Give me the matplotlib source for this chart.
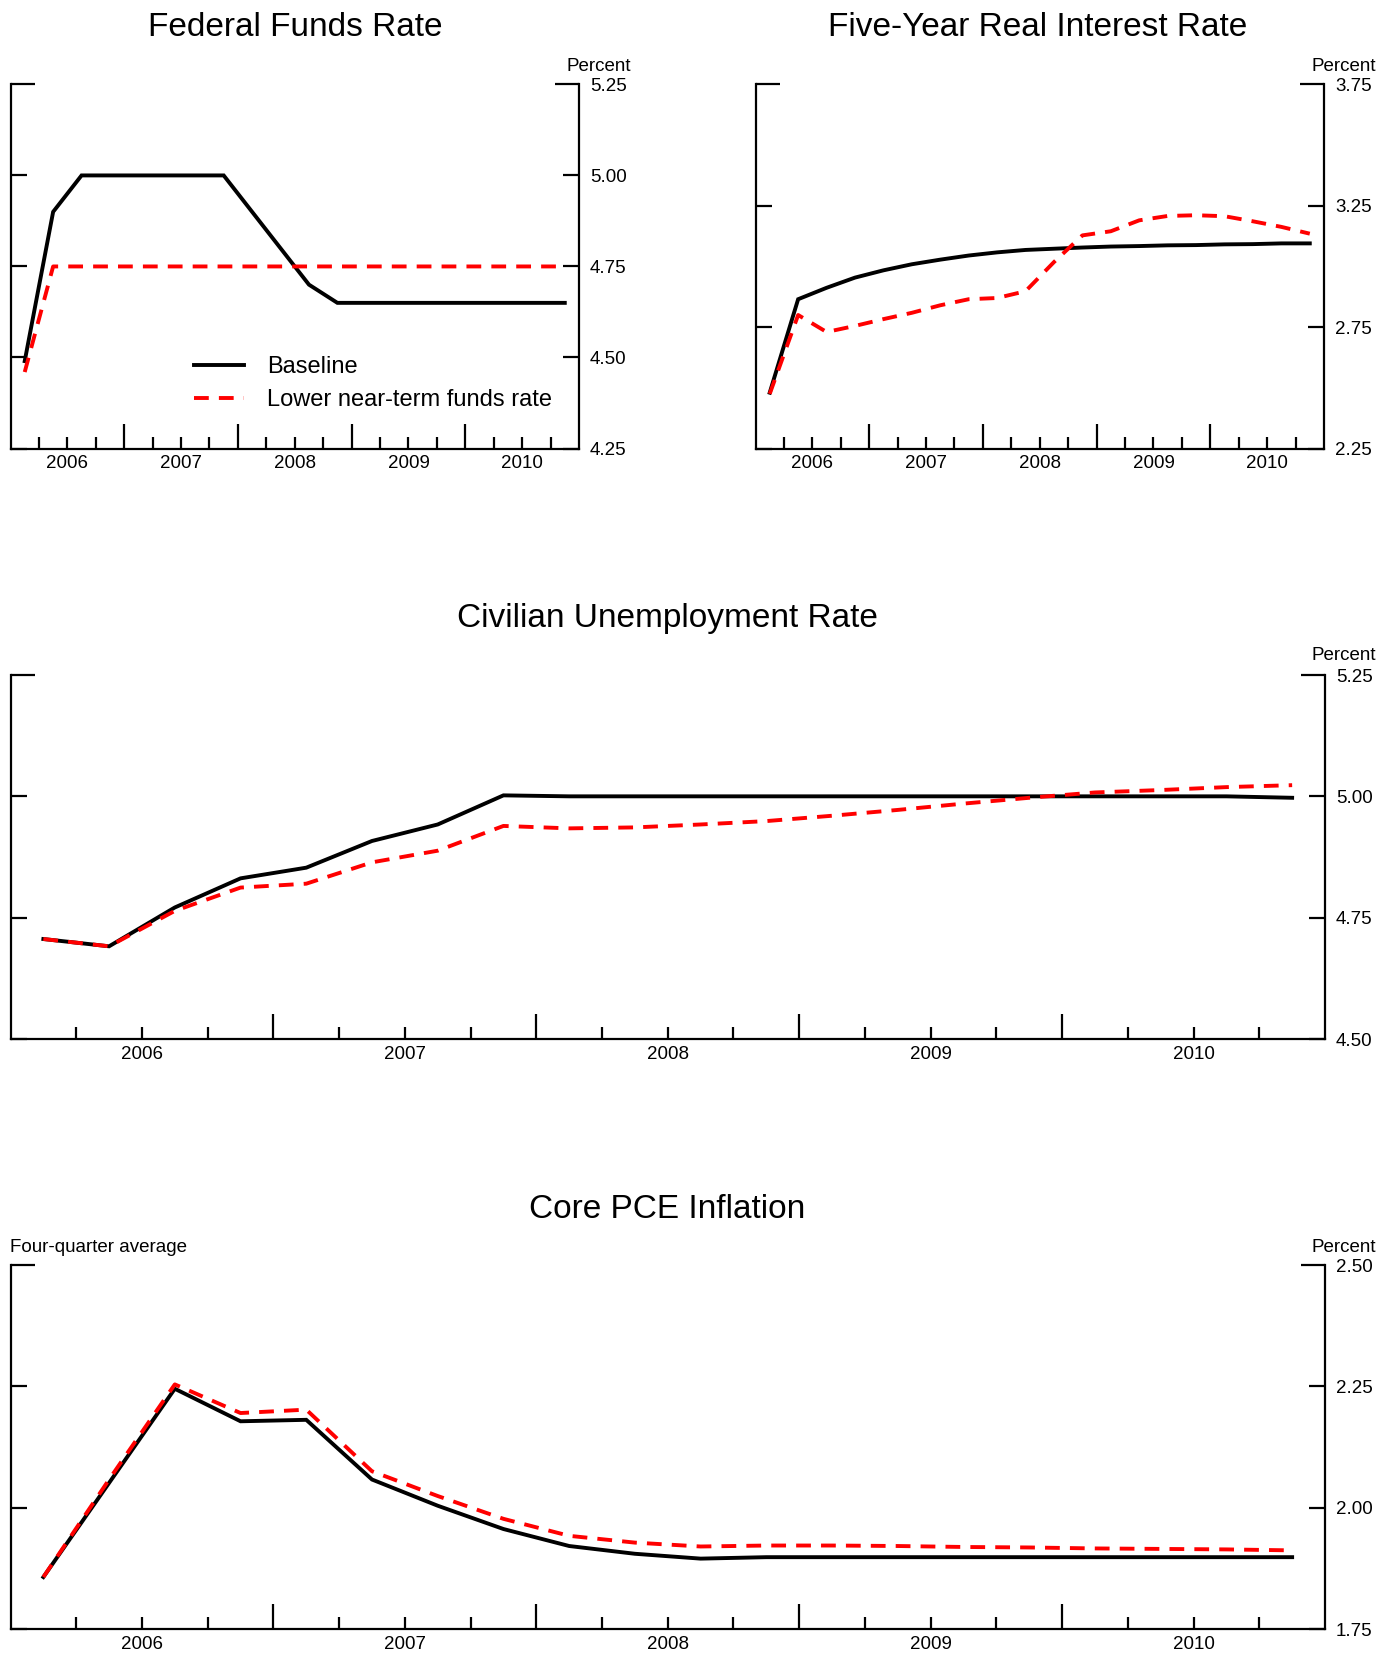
import matplotlib
matplotlib.use("Agg")
import matplotlib.pyplot as plt

plt.rcParams['font.family'] = ['Liberation Sans', 'DejaVu Sans']

# ---------------- data ----------------
quarters = [f"{y}Q{q}" for y in range(2006, 2011) for q in range(1, 5)]
year_labels = ['2006', '2007', '2008', '2009', '2010']

ffr_base = [4.49, 4.90, 5.00, 5.00, 5.00, 5.00, 5.00, 5.00, 4.90, 4.80,
            4.70, 4.65, 4.65, 4.65, 4.65, 4.65, 4.65, 4.65, 4.65, 4.65]
ffr_alt = [4.46, 4.75, 4.75, 4.75, 4.75, 4.75, 4.75, 4.75, 4.75, 4.75,
           4.75, 4.75, 4.75, 4.75, 4.75, 4.75, 4.75, 4.75, 4.75, 4.75]

real_base = [2.48, 2.865, 2.912, 2.954, 2.984, 3.009, 3.028, 3.045, 3.058, 3.068,
             3.073, 3.078, 3.082, 3.084, 3.087, 3.088, 3.091, 3.092, 3.095, 3.095]
real_alt = [2.475, 2.80, 2.73, 2.755, 2.783, 2.809, 2.840, 2.865, 2.870, 2.898,
            3.018, 3.128, 3.145, 3.190, 3.208, 3.211, 3.207, 3.186, 3.163, 3.135]

unemp_base = [4.706, 4.691, 4.771, 4.831, 4.853, 4.908, 4.942, 5.002, 5.000, 5.000,
              5.000, 5.000, 5.000, 5.000, 5.000, 5.000, 5.000, 5.000, 5.000, 4.997]
unemp_alt = [4.706, 4.691, 4.764, 4.812, 4.820, 4.864, 4.888, 4.939, 4.934, 4.936,
             4.942, 4.949, 4.960, 4.972, 4.985, 4.997, 5.008, 5.013, 5.019, 5.023]

pce_base = [1.857, 2.051, 2.245, 2.178, 2.181, 2.058, 2.004, 1.956, 1.921, 1.905,
            1.895, 1.898, 1.898, 1.898, 1.898, 1.898, 1.898, 1.898, 1.898, 1.898]
pce_alt = [1.857, 2.058, 2.254, 2.195, 2.202, 2.075, 2.024, 1.977, 1.942, 1.928,
           1.920, 1.922, 1.922, 1.921, 1.919, 1.918, 1.916, 1.915, 1.914, 1.912]

ffr_ticks = [4.25, 4.50, 4.75, 5.00, 5.25]
real_ticks = [2.25, 2.75, 3.25, 3.75]
unemp_ticks = [4.50, 4.75, 5.00, 5.25]
pce_ticks = [1.75, 2.00, 2.25, 2.50]

# ---------------- layout ----------------
W, H = 1396, 1655
fig = plt.figure(figsize=(W / 100, H / 100), dpi=100)

def add_panel(l, r, t, b):
    return fig.add_axes([l / W, 1 - b / H, (r - l) / W, (b - t) / H])

LW_SP = 1.6
TICK_FS = 13.5
x = [i + 0.5 for i in range(len(quarters))]

def style(ax, yticks):
    ax.set_xlim(0, len(quarters))
    ax.set_ylim(yticks[0], yticks[-1])
    ax.spines['top'].set_visible(False)
    for s in ['left', 'right', 'bottom']:
        ax.spines[s].set_linewidth(LW_SP)
    ax.set_yticks(yticks[:-1], labels=[f"{v:.2f}" for v in yticks[:-1]])
    ax.set_yticks([yticks[-1]], labels=[f"{yticks[-1]:.2f}"], minor=True)
    ax.tick_params(axis='y', which='both', direction='in', left=True, right=True,
                   labelleft=False, labelright=True, width=LW_SP, pad=8,
                   labelsize=TICK_FS)
    ax.tick_params(axis='y', which='major', length=11.5)
    ax.tick_params(axis='y', which='minor', length=17)
    qt = [i for i in range(1, len(quarters)) if i % 4 != 0]
    qlab = [year_labels[i // 4] if i % 4 == 2 else '' for i in qt]
    ax.set_xticks(qt, labels=qlab)
    ax.set_xticks([i for i in range(4, len(quarters), 4)], minor=True)
    ax.tick_params(axis='x', which='both', direction='in', top=False, bottom=True,
                   width=LW_SP, labelsize=TICK_FS, pad=5)
    ax.tick_params(axis='x', which='major', length=9)
    ax.tick_params(axis='x', which='minor', length=18.3)

def plot_pair(ax, base, alt):
    ax.plot(x, base, color='black', lw=2.8, solid_joinstyle='miter', label='Baseline')
    ax.plot(x, alt, color='#ff0000', lw=2.8, dashes=(3.8, 2.6),
            label='Lower near-term funds rate')

def title(txt, cx, cy):
    fig.text(cx / W, 1 - cy / H, txt, ha='center', va='center', fontsize=24)

def small(txt, px, py, ha):
    fig.text(px / W, 1 - py / H, txt, ha=ha, va='center', fontsize=TICK_FS)

# Panel 1
ax1 = add_panel(10.5, 579, 84.4, 448.5)
plot_pair(ax1, ffr_base, ffr_alt)
style(ax1, ffr_ticks)
ax1.legend(loc='center left', bbox_to_anchor=(0.3228, 0.178), frameon=False,
           fontsize=17, handlelength=2.1, handletextpad=1.0, borderpad=0,
           borderaxespad=0, labelspacing=0.45)
title('Federal Funds Rate', 294.8, 27.5)
small('Percent', 631, 66.5, 'right')

# Panel 2
ax2 = add_panel(755.5, 1324, 84.4, 448.5)
plot_pair(ax2, real_base, real_alt)
style(ax2, real_ticks)
title('Five-Year Real Interest Rate', 1038, 27.5)
small('Percent', 1376, 66.5, 'right')

# Panel 3
ax3 = add_panel(10.5, 1325, 675, 1039)
plot_pair(ax3, unemp_base, unemp_alt)
style(ax3, unemp_ticks)
title('Civilian Unemployment Rate', 667, 618.5)
small('Percent', 1376, 656, 'right')

# Panel 4
ax4 = add_panel(10.5, 1325, 1265, 1629)
plot_pair(ax4, pce_base, pce_alt)
style(ax4, pce_ticks)
title('Core PCE Inflation', 667, 1209.5)
small('Percent', 1376, 1247, 'right')
small('Four-quarter average', 10.5, 1247, 'left')

fig.savefig('out.png', dpi=100)
